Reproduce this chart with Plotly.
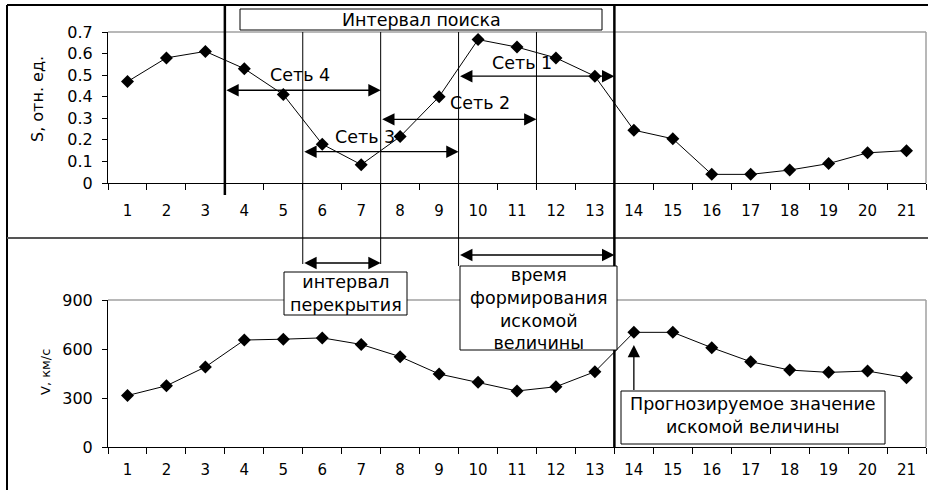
import plotly.graph_objects as go

# ---- data -------------------------------------------------------------
periods = list(range(1, 22))
tick_labels = [str(p) for p in periods]
s_values = [0.47, 0.58, 0.61, 0.53, 0.41, 0.18, 0.085, 0.215, 0.40, 0.665, 0.63,
            0.58, 0.495, 0.245, 0.205, 0.04, 0.04, 0.06, 0.09, 0.14, 0.15]
v_values = [315, 375, 490, 655, 660, 668, 628, 553, 447, 396, 343,
            369, 461, 702, 702, 608, 522, 471, 457, 465, 424]

# networks: name, first and last boundary of the window, level of the arrow
net_names = ["Сеть 1", "Сеть 2", "Сеть 3", "Сеть 4"]
net_start = [9.5, 7.5, 5.5, 3.5]
net_end = [13.5, 11.5, 9.5, 7.5]
net_level = [0.495, 0.295, 0.145, 0.43]

search_bounds = [3.5, 13.5]      # "Интервал поиска"
overlap_bounds = [5.5, 7.5]      # "интервал перекрытия"
forming_bounds = [9.5, 13.5]     # "время формирования искомой величины"
forecast_period = 14

s_ticks = [0, 0.1, 0.2, 0.3, 0.4, 0.5, 0.6, 0.7]
v_ticks = [0, 300, 600, 900]

# ---- layout helpers ---------------------------------------------------
W, H = 928, 490
FONT = "DejaVu Sans"


def px(x):
    return x / W


def py(y):
    return 1 - y / H


X0, X1 = 108, 926
TOP_Y0, TOP_Y1 = 32, 183
BOT_Y0, BOT_Y1 = 300, 447


def x_of(v):
    """pixel position of a period value on the shared category scale"""
    return X0 + (v - 0.5) * (X1 - X0) / 21


fig = go.Figure()

marker = dict(symbol="diamond", size=10, color="black")
line = dict(color="black", width=1)
fig.add_trace(go.Scatter(x=periods, y=s_values, mode="lines+markers",
                         marker=marker, line=line, xaxis="x", yaxis="y",
                         showlegend=False, hoverinfo="skip"))
fig.add_trace(go.Scatter(x=periods, y=v_values, mode="lines+markers",
                         marker=marker, line=line, xaxis="x2", yaxis="y2",
                         showlegend=False, hoverinfo="skip"))

xaxis_common = dict(
    range=[0.5, 21.5], tickvals=periods, ticktext=tick_labels, ticks="",
    showline=True, linecolor="black", linewidth=1, showgrid=False,
    zeroline=False, tickfont=dict(family=FONT, size=15, color="black"),
    minor=dict(tickmode="array", tickvals=[p - 0.5 for p in periods] + [21.5],
               ticks="outside", ticklen=6, tickcolor="black", tickwidth=1,
               showgrid=False),
    fixedrange=True, automargin=False,
)
yaxis_common = dict(
    showline=True, linecolor="black", linewidth=1, showgrid=False,
    zeroline=False, ticks="outside", ticklen=5, tickcolor="black",
    tickfont=dict(family=FONT, size=16, color="black"), fixedrange=True,
    automargin=False,
)

fig.update_layout(
    width=W, height=H, margin=dict(l=0, r=0, t=0, b=0, pad=0, autoexpand=False),
    paper_bgcolor="white", plot_bgcolor="white",
    xaxis=dict(xaxis_common, domain=[px(X0), px(X1)], anchor="y",
               ticklabelstandoff=14),
    yaxis=dict(yaxis_common, domain=[py(TOP_Y1), py(TOP_Y0)], range=[0, 0.7],
               tickvals=s_ticks, ticktext=[f"{t:g}" for t in s_ticks],
               anchor="x", ticklabelstandoff=6),
    xaxis2=dict(xaxis_common, domain=[px(X0), px(X1)], anchor="y2",
                ticklabelstandoff=9),
    yaxis2=dict(yaxis_common, domain=[py(BOT_Y1), py(BOT_Y0)], range=[0, 900],
                tickvals=v_ticks, ticktext=[str(t) for t in v_ticks],
                anchor="x2", ticklabelstandoff=6),
)

shapes = []


def pline(x0, y0, x1, y1, color="black", width=1):
    shapes.append(dict(type="line", xref="paper", yref="paper",
                       x0=px(x0), y0=py(y0), x1=px(x1), y1=py(y1),
                       line=dict(color=color, width=width)))


def prect(x0, y0, x1, y1):
    shapes.append(dict(type="rect", xref="paper", yref="paper",
                       x0=px(x0), y0=py(y0), x1=px(x1), y1=py(y1),
                       fillcolor="white", line=dict(color="black", width=1)))


# outer frame and separator between the two panels
pline(7, 5, 928, 5, width=2)
pline(7, 5, 7, 490, width=2)
pline(7, 238, 928, 238, color="#555555", width=2)

# light plot-area borders (top and right)
for y0, y1 in [(TOP_Y0, TOP_Y1), (BOT_Y0, BOT_Y1)]:
    pline(X0, y0, X1, y0, color="#a0a0a0", width=1.5)
    pline(X1, y0, X1, y1, color="#a0a0a0", width=1.5)

# boundaries of the search interval (thick)
pline(x_of(search_bounds[0]), 6, x_of(search_bounds[0]), 195, width=2.5)
pline(x_of(search_bounds[1]), 6, x_of(search_bounds[1]), BOT_Y1, width=2.5)

# thin boundaries of the network windows
pline(x_of(overlap_bounds[0]), TOP_Y0, x_of(overlap_bounds[0]), 264)
pline(x_of(overlap_bounds[1]), TOP_Y0, x_of(overlap_bounds[1]), 264)
pline(x_of(forming_bounds[0]), TOP_Y0, x_of(forming_bounds[0]), 266)
pline(x_of(11.5), TOP_Y0, x_of(11.5), 188)

# text boxes
prect(240, 9, 602, 30)
prect(284, 272, 407, 315)
prect(460, 266, 617, 350)
prect(621, 391, 885, 444)

fig.update_layout(shapes=shapes)

ann = []
arrow_style = dict(showarrow=True, arrowhead=2, startarrowhead=2,
                   arrowsize=1.9, startarrowsize=1.9, arrowwidth=1.3,
                   arrowcolor="black", arrowside="end+start", text="",
                   standoff=0, startstandoff=0)
centered = dict(showarrow=False, xanchor="center", yanchor="middle")

# network arrows in the upper panel
label_pos = {"Сеть 1": (11.12, 0.556), "Сеть 2": (10.05, 0.371),
             "Сеть 3": (7.09, 0.213), "Сеть 4": (5.44, 0.50)}
for name, a, b, lvl in zip(net_names, net_start, net_end, net_level):
    ann.append(dict(arrow_style, xref="x", yref="y", x=b, y=lvl,
                    axref="x", ayref="pixel", ax=a, ay=0))
    lx, ly = label_pos[name]
    ann.append(dict(centered, xref="x", yref="y", x=lx, y=ly, text=name,
                    font=dict(family=FONT, size=17.5, color="black")))

# interval arrows in the lower panel
ann.append(dict(arrow_style, xref="x2", yref="paper", x=overlap_bounds[1],
                y=py(263), axref="x2", ayref="pixel", ax=overlap_bounds[0], ay=0))
ann.append(dict(arrow_style, xref="x2", yref="paper", x=forming_bounds[1],
                y=py(255), axref="x2", ayref="pixel", ax=forming_bounds[0], ay=0))

# forecast arrow pointing at the predicted value
ann.append(dict(showarrow=True, arrowhead=2, arrowsize=1.9, arrowwidth=1.3,
                arrowcolor="black", text="", xref="x2", yref="y2",
                x=forecast_period, y=625, axref="pixel", ayref="y2", ax=0,
                ay=340, standoff=0))

box_font = dict(family=FONT, size=17.5, color="black")
ann.append(dict(centered, xref="paper", yref="paper", x=px(421), y=py(19.5),
                text="Интервал поиска", font=box_font))
ann.append(dict(centered, xref="paper", yref="paper", x=px(345.5), y=py(293.5),
                text="интервал<br>перекрытия", font=box_font))
ann.append(dict(centered, xref="paper", yref="paper", x=px(538.5), y=py(309),
                text="время<br>формирования<br>искомой<br>величины",
                font=box_font))
ann.append(dict(centered, xref="paper", yref="paper", x=px(753), y=py(415),
                text="Прогнозируемое значение<br>искомой величины",
                font=box_font))

# axis titles
ann.append(dict(centered, xref="paper", yref="paper", x=px(38), y=py(99),
                text="S, отн. ед.", textangle=-90,
                font=dict(family=FONT, size=16, color="black")))
ann.append(dict(centered, xref="paper", yref="paper", x=px(45), y=py(372),
                text="V, км/с", textangle=-90,
                font=dict(family=FONT, size=13, color="black")))

fig.update_layout(annotations=ann)

fig.write_html("out.html")
